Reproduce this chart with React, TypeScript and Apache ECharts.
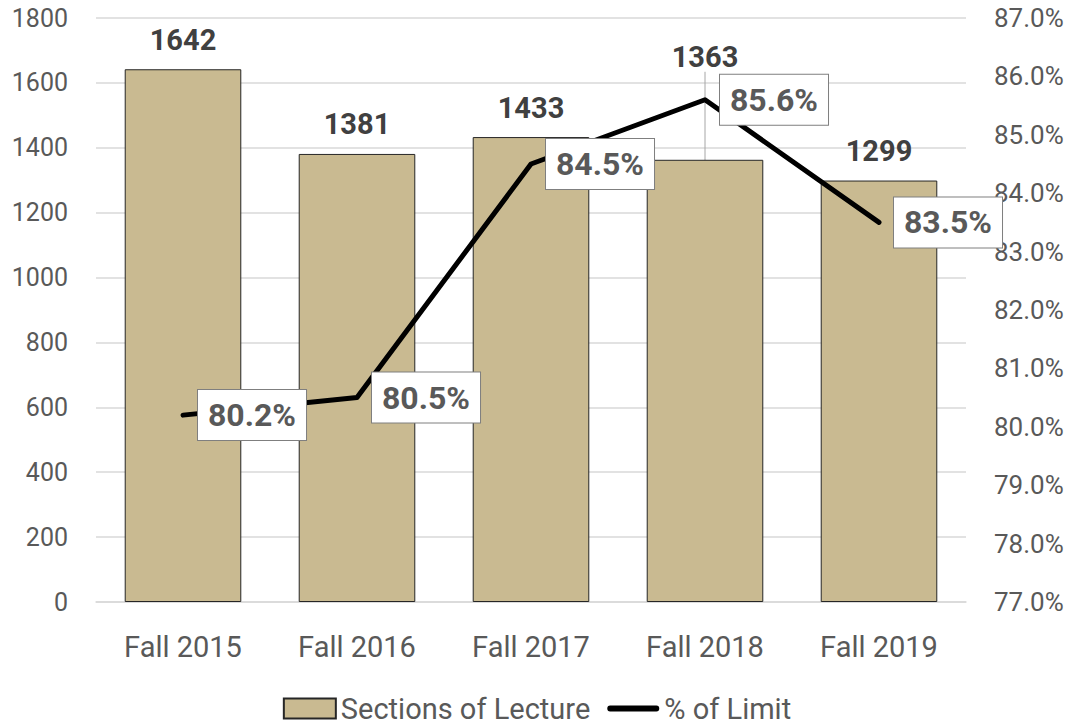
import React, { useEffect, useRef } from "react";
import * as echarts from "echarts";

const categories = ["Fall 2015", "Fall 2016", "Fall 2017", "Fall 2018", "Fall 2019"];
const sections = [1642, 1381, 1433, 1363, 1299];
const pctLimit = [80.2, 80.5, 84.5, 85.6, 83.5];

const FONT = "Roboto, 'Noto Sans', sans-serif";

export default function App() {
  const ref = useRef<HTMLDivElement>(null);
  useEffect(() => {
    if (!ref.current) return;
    const chart = echarts.init(ref.current, undefined, { renderer: "svg" });
    const barData = sections.map((v, i) =>
      i === 3
        ? { value: v, labelLine: { show: true, lineStyle: { color: "#a6a6a6", width: 1 } } }
        : { value: v }
    );
    chart.setOption({
      animation: false,
      textStyle: { fontFamily: FONT },
      grid: { left: 96, right: 108, top: 18, bottom: 123 },
      legend: {
        top: 689,
        left: "center",
        itemWidth: 52,
        itemHeight: 20,
        itemGap: 17,
        textStyle: { fontSize: 29, color: "#595959", fontFamily: FONT },
        data: [
          { name: "Sections of Lecture", icon: "rect" },
          {
            name: "% of Limit",
            icon: "path://M3,0 H51 A3,3 0 0 1 51,6 H3 A3,3 0 0 1 3,0 Z",
            itemStyle: { color: "#000000", borderWidth: 0 },
          },
        ],
      },
      xAxis: {
        type: "category",
        data: categories,
        axisTick: { show: false },
        axisLine: { lineStyle: { color: "#d9d9d9", width: 1.5 } },
        axisLabel: { fontSize: 29, color: "#595959", margin: 30, fontFamily: FONT },
      },
      yAxis: [
        {
          type: "value",
          min: 0,
          max: 1800,
          interval: 200,
          splitLine: { lineStyle: { color: "#d9d9d9", width: 1.5 } },
          axisLabel: {
            fontSize: 25,
            color: "#595959",
            margin: 28,
            fontFamily: FONT,
            formatter: (v: number) => String(v),
          },
        },
        {
          type: "value",
          min: 77,
          max: 87,
          interval: 1,
          splitLine: { show: false },
          axisLabel: {
            fontSize: 26,
            color: "#595959",
            margin: 28,
            fontFamily: FONT,
            formatter: (v: number) => v.toFixed(1) + "%",
          },
        },
      ],
      series: [
        {
          name: "Sections of Lecture",
          type: "bar",
          data: barData,
          barWidth: "67%",
          itemStyle: { color: "#C9BA91", borderColor: "#262626", borderWidth: 1 },
          label: {
            show: true,
            position: "top",
            distance: 15,
            fontSize: 29,
            fontWeight: "bold",
            color: "#404040",
            fontFamily: FONT,
          },
          labelLine: { show: false },
          labelLayout: (p: any) => (p.dataIndex === 3 ? { dy: -73 } : {}),
          z: 1,
        },
        {
          name: "% of Limit",
          type: "line",
          yAxisIndex: 1,
          data: pctLimit,
          symbol: "circle",
          symbolSize: 0,
          lineStyle: { color: "#000000", width: 5, cap: "round", join: "round" },
          itemStyle: { color: "#000000" },
          label: {
            show: true,
            position: "right",
            distance: 15,
            fontSize: 32,
            fontWeight: "bold",
            color: "#595959",
            backgroundColor: "#ffffff",
            borderColor: "#7f7f7f",
            borderWidth: 1,
            padding: [10, 10, 8, 10],
            fontFamily: FONT,
            formatter: (p: any) => Number(p.value).toFixed(1) + "%",
          },
          z: 3,
        },
      ],
    });
    return () => chart.dispose();
  }, []);
  return (
    <div
      ref={ref}
      style={{ position: "fixed", left: 0, top: 0, width: 1074, height: 725, background: "#fff" }}
    />
  );
}
